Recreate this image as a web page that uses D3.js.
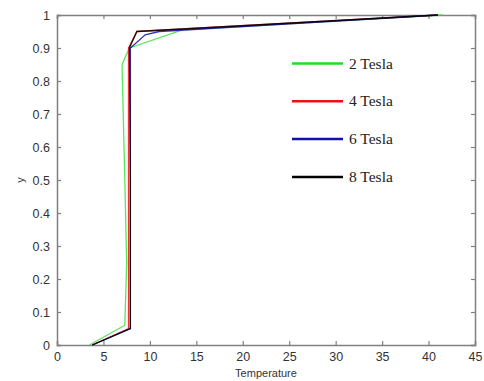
<!DOCTYPE html>
<html>
<head>
<meta charset="utf-8">
<script src="https://cdn.jsdelivr.net/npm/d3@7"></script>
<style>
  body { margin: 0; background: #fff; }
  svg { display: block; }
</style>
</head>
<body>
<div id="chart-area"></div>
<script>
// data
var seriesNames = ["2 Tesla", "4 Tesla", "6 Tesla", "8 Tesla"];
var seriesColors = ["#22dd22", "#ee1111", "#1111aa", "#000000"];
var temp2 = [3.5, 7.3, 7.5, 7.3, 7.0, 7.8, 13.5, 41.5];
var y2    = [0, 0.06, 0.25, 0.5, 0.85, 0.9, 0.955, 1];
var temp4 = [3.8, 7.7, 7.7, 7.7, 8.6, 41];
var y4    = [0, 0.05, 0.5, 0.9, 0.95, 1];
var temp6 = [3.8, 7.9, 7.9, 7.9, 9.5, 11, 41];
var y6    = [0, 0.05, 0.5, 0.9, 0.94, 0.95, 1];
var temp8 = [3.8, 7.9, 7.9, 7.8, 8.6, 41];
var y8    = [0, 0.05, 0.5, 0.9, 0.95, 1];
var xTicks = [0, 5, 10, 15, 20, 25, 30, 35, 40, 45];
var yTicks = [0, 0.1, 0.2, 0.3, 0.4, 0.5, 0.6, 0.7, 0.8, 0.9, 1];

var series = [
  { name: seriesNames[0], color: seriesColors[0], xs: temp2, ys: y2 },
  { name: seriesNames[1], color: seriesColors[1], xs: temp4, ys: y4 },
  { name: seriesNames[2], color: seriesColors[2], xs: temp6, ys: y6 },
  { name: seriesNames[3], color: seriesColors[3], xs: temp8, ys: y8 }
];

var margin = { left: 57, right: 9, top: 15, bottom: 36 };
var width = 484 - margin.left - margin.right,
    height = 381 - margin.top - margin.bottom;

var svg = d3.select("#chart-area")
    .append("svg")
    .attr("width", 484)
    .attr("height", 381);

var g = svg.append("g")
    .attr("transform", "translate(" + margin.left + ", " + margin.top + ")");

var x = d3.scaleLinear().domain([0, 45]).range([0, width]);
var y = d3.scaleLinear().domain([0, 1]).range([height, 0]);

var axisColor = "#808080";
var fontSans = "Liberation Sans, Arial, sans-serif";

// axes (inward ticks, matlab style)
var xAxis = g.append("g")
    .attr("transform", "translate(0," + height + ")")
    .call(d3.axisBottom(x).tickValues(xTicks).tickSize(-4).tickPadding(7).tickFormat(d3.format("d")));
var yAxis = g.append("g")
    .call(d3.axisLeft(y).tickValues(yTicks).tickSize(-4).tickPadding(7).tickFormat(function (d) { return d === 0 || d === 1 ? d : d3.format(".1f")(d); }));
var xTop = g.append("g")
    .call(d3.axisTop(x).tickValues(xTicks).tickSize(-4).tickFormat(""));
var yRight = g.append("g")
    .attr("transform", "translate(" + width + ",0)")
    .call(d3.axisRight(y).tickValues(yTicks).tickSize(-4).tickFormat(""));

[xAxis, yAxis, xTop, yRight].forEach(function (a) {
  a.selectAll("path").attr("stroke", axisColor).attr("stroke-width", 1.5);
  a.selectAll("line").attr("stroke", axisColor).attr("stroke-width", 1.2);
  a.selectAll("text").attr("fill", "#333").attr("font-size", "12.5px").attr("font-family", fontSans);
});

// lines
var line = d3.line()
    .x(function (d) { return x(d[0]); })
    .y(function (d) { return y(d[1]); });

g.selectAll(".series")
    .data(series)
    .enter()
    .append("path")
    .attr("class", "series")
    .attr("fill", "none")
    .attr("stroke", function (d) { return d.color; })
    .attr("stroke-width", 1.3)
    .attr("opacity", function (d, i) { return i === 0 ? 0.75 : 0.85; })
    .attr("d", function (d) { return line(d3.zip(d.xs, d.ys)); });

// axis labels
svg.append("text")
    .attr("x", margin.left + width / 2)
    .attr("y", 377)
    .attr("text-anchor", "middle")
    .attr("font-size", "11px")
    .attr("font-family", fontSans)
    .attr("fill", "#333")
    .text("Temperature");

svg.append("text")
    .attr("transform", "translate(24," + (margin.top + height / 2) + ") rotate(-90)")
    .attr("text-anchor", "middle")
    .attr("font-size", "11px")
    .attr("font-family", fontSans)
    .attr("fill", "#333")
    .text("y");

// legend
var legend = svg.selectAll(".legend")
    .data(series)
    .enter()
    .append("g")
    .attr("class", "legend")
    .attr("transform", function (d, i) { return "translate(292," + (63.5 + i * 37.8) + ")"; });

legend.append("line")
    .attr("x1", 0).attr("x2", 51)
    .attr("stroke", function (d) { return d.color; })
    .attr("stroke-width", 2.5);

legend.append("text")
    .attr("x", 57)
    .attr("y", 5)
    .attr("font-size", "15.5px")
    .attr("font-family", "Liberation Serif, Times New Roman, serif")
    .attr("fill", "#222")
    .text(function (d) { return d.name; });
</script>
</body>
</html>
